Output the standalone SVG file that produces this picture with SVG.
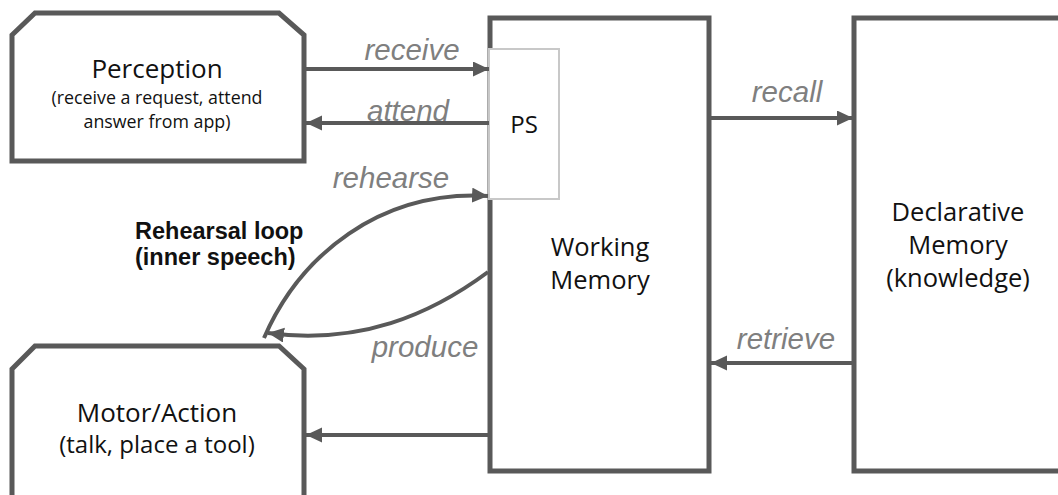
<svg xmlns="http://www.w3.org/2000/svg" width="1058" height="495" viewBox="0 0 1058 495">
  <defs>
    <marker id="arrow" markerUnits="userSpaceOnUse" markerWidth="18" markerHeight="16" refX="16" refY="7.5" orient="auto">
      <path d="M0,0 L16,7.5 L0,15 z" fill="#595959"/>
    </marker>
  </defs>
  <style>
    .box { fill: #ffffff; stroke: #595959; stroke-width: 5; stroke-linejoin: miter; }
    .ps { fill: #ffffff; stroke: #c8c8c8; stroke-width: 2; }
    .edge { fill: none; stroke: #595959; stroke-width: 4; marker-end: url(#arrow); }
    .title { font-family: "Open Sans", "Noto Sans", sans-serif; font-size: 26px; fill: #111111; text-anchor: middle; }
    .mem { font-size: 25.5px; }
    .sub { font-family: "Open Sans", "Noto Sans", sans-serif; font-size: 17.8px; fill: #111111; text-anchor: middle; }
    .lbl { font-family: "Liberation Sans", Arial, sans-serif; font-style: italic; font-size: 29.5px; fill: #7f7f7f; text-anchor: middle; }
    .note { font-family: "Liberation Sans", Arial, sans-serif; font-weight: bold; font-size: 23.5px; fill: #111111; }
  </style>

  <rect width="1058" height="495" fill="#ffffff"/>

  <!-- nodes -->
  <g id="perception">
    <polygon class="box" points="35,13 279,13 304,35 304,161 12,161 12,35"/>
    <text class="title" x="157" y="78">Perception</text>
    <text class="sub" x="157" y="104">(receive a request, attend<tspan x="157" y="128">answer from app)</tspan></text>
  </g>

  <g id="motor">
    <polygon class="box" points="35,346 279,346 304,369 304,520 12,520 12,369"/>
    <text class="title" x="157" y="422">Motor/Action<tspan x="157" y="453" style="font-size:24px">(talk, place a tool)</tspan></text>
  </g>

  <g id="working-memory">
    <rect class="box" x="490" y="18" width="219" height="453"/>
    <text class="title mem" x="600" y="256">Working<tspan x="600" y="289">Memory</tspan></text>
  </g>

  <g id="production-system">
    <rect class="ps" x="489" y="49" width="70" height="150"/>
    <text class="title" x="524" y="133" style="font-size:24px">PS</text>
  </g>

  <g id="declarative-memory">
    <rect class="box" x="854" y="18" width="230" height="453"/>
    <text class="title mem" x="958" y="221">Declarative<tspan x="958" y="254">Memory</tspan><tspan x="958" y="287">(knowledge)</tspan></text>
  </g>

  <!-- connectors -->
  <g id="connectors">
    <path class="edge" d="M304,69 H489"/>
    <path class="edge" d="M489,123 H306"/>
    <path class="edge" d="M709,118 H853"/>
    <path class="edge" d="M854,363 H711"/>
    <path class="edge" d="M490,435 H306"/>
    <path class="edge" d="M264,338 C300,255 380,190 488,196"/>
    <path class="edge" d="M488,272 C430,315 360,345 268,333"/>
  </g>

  <!-- connector labels -->
  <g id="labels">
    <text class="lbl" x="412" y="60">receive</text>
    <text class="lbl" x="408" y="121">attend</text>
    <text class="lbl" x="391" y="188">rehearse</text>
    <text class="lbl" x="425" y="357">produce</text>
    <text class="lbl" x="787" y="102">recall</text>
    <text class="lbl" x="786" y="349">retrieve</text>
    <text class="note" x="135" y="239">Rehearsal loop<tspan x="135" y="265">(inner speech)</tspan></text>
  </g>
</svg>
